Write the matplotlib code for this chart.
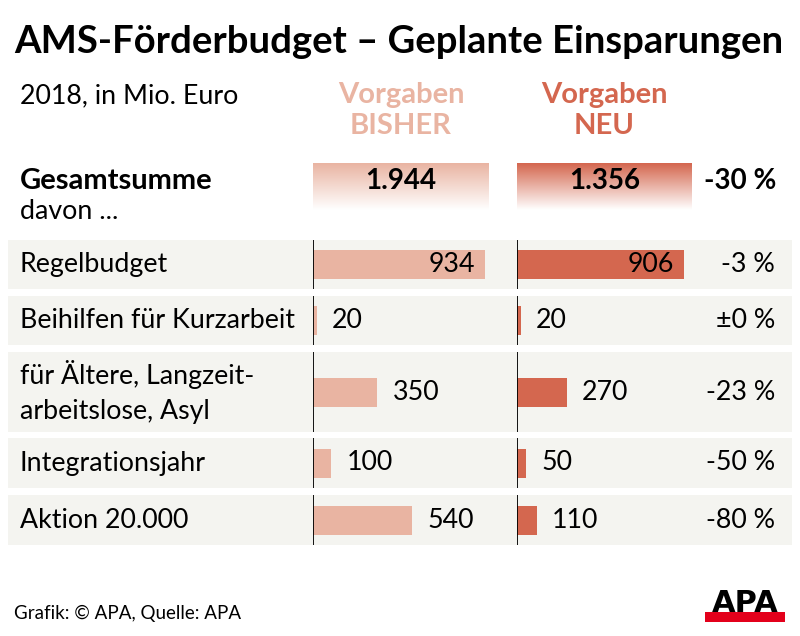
import numpy as np
import matplotlib
matplotlib.use('Agg')
import matplotlib.pyplot as plt
from matplotlib.colors import LinearSegmentedColormap

# ── Data ──────────────────────────────────────────────────────────────────────
categories = ["Regelbudget", "Beihilfen für Kurzarbeit",
              "für Ältere, Langzeit-\narbeitslose, Asyl",
              "Integrationsjahr", "Aktion 20.000"]
bisher = [934, 20, 350, 100, 540]
neu = [906, 20, 270, 50, 110]
changes = ["-3 %", "±0 %", "-23 %", "-50 %", "-80 %"]
total_bisher = 1944
total_neu = 1356
total_change = "-30 %"

# ── Layout (pixel coordinates) ────────────────────────────────────────────────
W, H = 800, 636
ROW_TOP = [240, 296, 352, 438, 495]
ROW_BOT = [289, 345, 432, 488, 545]
ROW_MID = [(a + b) / 2 for a, b in zip(ROW_TOP, ROW_BOT)]
X_BISHER, X_NEU = 313, 517
PX_PER_UNIT = 0.184
PANEL_W = 190

C_BISHER = '#e9b4a2'
C_NEU = '#d4674f'
C_ROW = '#f4f4f0'
FS = 19.3

plt.rcParams['font.family'] = ['Lato', 'DejaVu Sans']

fig = plt.figure(figsize=(W / 100, H / 100), dpi=100)
ax = fig.add_axes([0, 0, 1, 1])
ax.set_xlim(0, W)
ax.set_ylim(H, 0)
ax.axis('off')

# titles
ax.text(14, 53, "AMS-Förderbudget – Geplante Einsparungen", fontsize=27.5,
        fontweight='bold', va='baseline', ha='left')
ax.text(20, 103, "2018, in Mio. Euro", fontsize=FS, va='baseline')
for xc, col, lines in [(401, C_BISHER, ("Vorgaben", "BISHER")),
                       (604, C_NEU, ("Vorgaben", "NEU"))]:
    ax.text(xc, 103, lines[0], fontsize=21, fontweight='bold', color=col,
            ha='center', va='baseline')
    ax.text(xc, 134, lines[1], fontsize=21, fontweight='bold', color=col,
            ha='center', va='baseline')

# totals row
ax.text(20, 189, "Gesamtsumme", fontsize=21, fontweight='bold', va='baseline')
ax.text(20, 219, "davon ...", fontsize=FS, va='baseline')
grad = np.linspace(0, 1, 100).reshape(-1, 1)
for x0, x1, col, val in [(313, 489, C_BISHER, total_bisher),
                         (517, 692, C_NEU, total_neu)]:
    cmap = LinearSegmentedColormap.from_list('g', [col, '#ffffff'])
    ax.imshow(grad, cmap=cmap, extent=(x0, x1, 210, 163), aspect='auto',
              interpolation='bilinear', zorder=1)
    ax.text((x0 + x1) / 2, 189, f"{val:,}".replace(',', '.'), fontsize=20,
            fontweight='bold', ha='center', va='baseline', zorder=2)
ax.text(776, 189, total_change, fontsize=20, fontweight='bold',
        ha='right', va='baseline')

# row backgrounds and labels
for top, bot, mid, cat, ch in zip(ROW_TOP, ROW_BOT, ROW_MID, categories, changes):
    ax.add_patch(plt.Rectangle((8, top), 784, bot - top, color=C_ROW, lw=0, zorder=0))
    ax.text(20, mid, cat, fontsize=FS, va='center', ha='left', linespacing=1.5)
    ax.text(775, mid, ch, fontsize=FS, va='center', ha='right')

# footer
ax.text(14, 619, "Grafik: © APA, Quelle: APA", fontsize=13.5, va='baseline')
ax.text(745, 612, "APA", fontsize=22, fontweight='heavy', ha='center',
        va='baseline', family='DejaVu Sans')
ax.add_patch(plt.Rectangle((705, 612), 80, 10, color='#e3001b', lw=0))
ax.set_xlim(0, W)
ax.set_ylim(H, 0)

# bar panels
for x0, vals, col in [(X_BISHER, bisher, C_BISHER), (X_NEU, neu, C_NEU)]:
    bx = fig.add_axes([x0 / W, 0, PANEL_W / W, 1])
    bx.set_xlim(0, PANEL_W / PX_PER_UNIT)
    bx.set_ylim(H, 0)
    bx.axis('off')
    bx.patch.set_alpha(0)
    bx.barh(ROW_MID, vals, height=29, color=col, left=0)
    bx.vlines([0] * len(ROW_TOP), ROW_TOP, ROW_BOT, color='black', lw=1.3)
    for mid, v in zip(ROW_MID, vals):
        if v > 800:
            bx.text(v - 10 / PX_PER_UNIT, mid, str(v), fontsize=FS,
                    ha='right', va='center')
        else:
            bx.text(v + 15 / PX_PER_UNIT, mid, str(v), fontsize=FS,
                    ha='left', va='center')

fig.savefig('out.png', dpi=100)
